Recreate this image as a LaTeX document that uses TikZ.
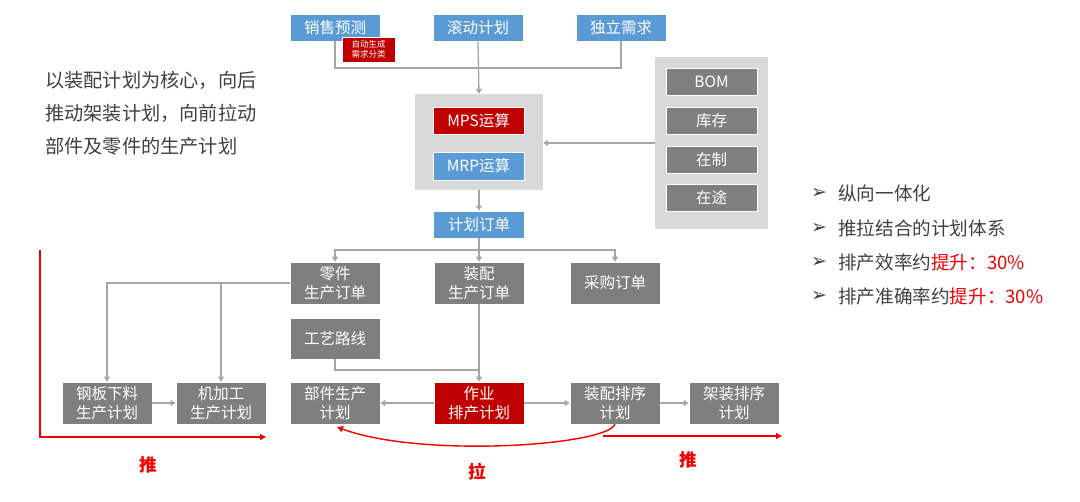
\documentclass[tikz,border=0pt]{standalone}
\usepackage{fontspec}
\setmainfont{Noto Sans CJK SC}
\newfontfamily\symfont{DejaVu Sans}
\usetikzlibrary{arrows.meta,calc}
\definecolor{bblue}{HTML}{5B9BD5}
\definecolor{bgrey}{HTML}{7F7F7F}
\definecolor{pgrey}{HTML}{D9D9D9}
\definecolor{bred}{HTML}{C00000}
\definecolor{lgrey}{HTML}{A6A6A6}
\definecolor{lred}{HTML}{F00000}
\definecolor{tgrey}{HTML}{404040}
\tikzset{
  box/.style={draw=white, line width=0.8pt, minimum width=90pt, minimum height=27pt, inner sep=0pt,
    text=white, align=center, font=\fontsize{15.5}{18.5}\selectfont},
  bluebox/.style={box, fill=bblue},
  greybox/.style={box, fill=bgrey, minimum height=42pt},
  redbox/.style={box, fill=bred},
  panelbox/.style={box, fill=bgrey, minimum width=91pt},
  conn/.style={draw=lgrey, line width=1.3pt},
  arr/.style={conn, -{Triangle[width=6pt,length=5pt]}},
  rarr/.style={draw=lred, line width=1.4pt, -{Triangle[width=6pt,length=6pt]}},
  biglabel/.style={text=lred, font=\fontsize{17.5}{20}\selectfont\bfseries},
}
\begin{document}
\begin{tikzpicture}[x=1pt,y=-1pt]
\useasboundingbox (0,0) rectangle (1080,502);
% grey block and panel
\node[fill=pgrey, minimum width=128pt, minimum height=96pt, inner sep=0pt] (block) at (479,142) {};
\node[fill=pgrey, minimum width=113pt, minimum height=172pt, inner sep=0pt] (panel) at (711.5,143) {};
% top row
\node[bluebox] (xs) at (335,27.5) {销售预测};
\node[bluebox] (gd) at (478,27.5) {滚动计划};
\node[bluebox] (dl) at (621,27.5) {独立需求};
\coordinate (topj) at (478,68);
\draw[conn] (xs.south) |- (topj) -| (dl.south);
\node[redbox, minimum width=53pt, minimum height=25pt, font=\fontsize{8.5}{9.5}\selectfont] (auto) at (368.5,49.5) {自动生成\\需求分类};
\draw[arr] (gd.south) -- (block.north);
% block contents
\node[redbox, minimum width=91pt] (mps) at (478.5,120.5) {MPS运算};
\node[bluebox, minimum width=91pt, minimum height=28pt] (mrp) at (478.5,166) {MRP运算};
% panel contents
\node[panelbox] (bom) at (711.5,81.5) {BOM};
\node[panelbox] (kc) at (711.5,120.5) {库存};
\node[panelbox] (zz) at (711.5,159.5) {在制};
\node[panelbox] (zt) at (711.5,197.5) {在途};
\draw[arr] (panel.west) -- (block.east |- panel.west);
% plan order
\node[bluebox, minimum width=91pt] (jh) at (479,224.5) {计划订单};
\draw[arr] (block.south -| jh.north) -- (jh.north);
% second row
\node[greybox] (lj) at (335,283) {零件\\生产订单};
\node[greybox] (zp) at (479,283) {装配\\生产订单};
\node[greybox] (cg) at (615,283) {采购订单};
\coordinate (jhb) at (479,250);
\draw[conn] (jh.south) -- (jhb);
\draw[arr] (jhb) -| (lj.north);
\draw[arr] (jhb) -| (cg.north);
\draw[arr] (jhb) -- (zp.north);
\node[greybox, minimum height=41pt] (gy) at (335,338.5) {工艺路线};
% bottom row
\node[greybox] (gb) at (107,403) {钢板下料\\生产计划};
\node[greybox] (jj) at (221,403) {机加工\\生产计划};
\node[greybox] (bj) at (335,403) {部件生产\\计划};
\node[greybox, fill=bred] (zy) at (479,403) {作业\\排产计划};
\node[greybox] (zx) at (615,403) {装配排序\\计划};
\node[greybox] (jz) at (734,403) {架装排序\\计划};
\draw[arr] (lj.west) -| (gb.north);
\draw[arr] (jj.north |- lj.west) -- (jj.north);
\coordinate (gyj) at (335,370);
\draw[conn] (gy.south) -- (gyj) -- (gyj -| zy.north);
\draw[arr] (zp.south) -- (zy.north);
\draw[arr] (gb.east) -- (jj.west);
\draw[arr] (zy.west) -- (bj.east);
\draw[arr] (zy.east) -- (zx.west);
\draw[arr] (zx.east) -- (jz.west);
% red push/pull
\coordinate (p1) at (40,250);
\coordinate (p2) at (40,437);
\coordinate (p3) at (266,437);
\draw[rarr] (p1) -- (p2) -- (p3);
\coordinate (q1) at (603,436);
\coordinate (q2) at (782,436);
\draw[rarr] (q1) -- (q2);
\coordinate (pe) at (337,427);
\draw[rarr] (zx.south) .. controls (605,446) and (420,458) .. (pe);
\node[biglabel] (tui1) at (148,465) {推};
\node[biglabel] (la) at (477,472) {拉};
\node[biglabel] (tui2) at (688,460) {推};
% left text
\node[anchor=north west, align=left, text=tgrey, font=\fontsize{19.2}{32.8}\selectfont, inner sep=0pt] (lt) at (45,71)
  {以装配计划为核心，向后\\推动架装计划，向前拉动\\部件及零件的生产计划};
% right bullets
\foreach \y/\t [count=\i] in {193/{纵向一体化},228/{推拉结合的计划体系},262/{排产效率约\textcolor{lred}{提升：30\%}},296/{排产准确率约\textcolor{lred}{提升：30\%}}}{
  \node[anchor=west, text=tgrey, font=\fontsize{19}{20}\symfont, inner sep=0pt] (b\i) at (811,\y) {➢};
  \node[anchor=west, text=tgrey, font=\fontsize{18.6}{20}\selectfont, inner sep=0pt] (t\i) at (838,\y) {\t};
}
\end{tikzpicture}
\end{document}
